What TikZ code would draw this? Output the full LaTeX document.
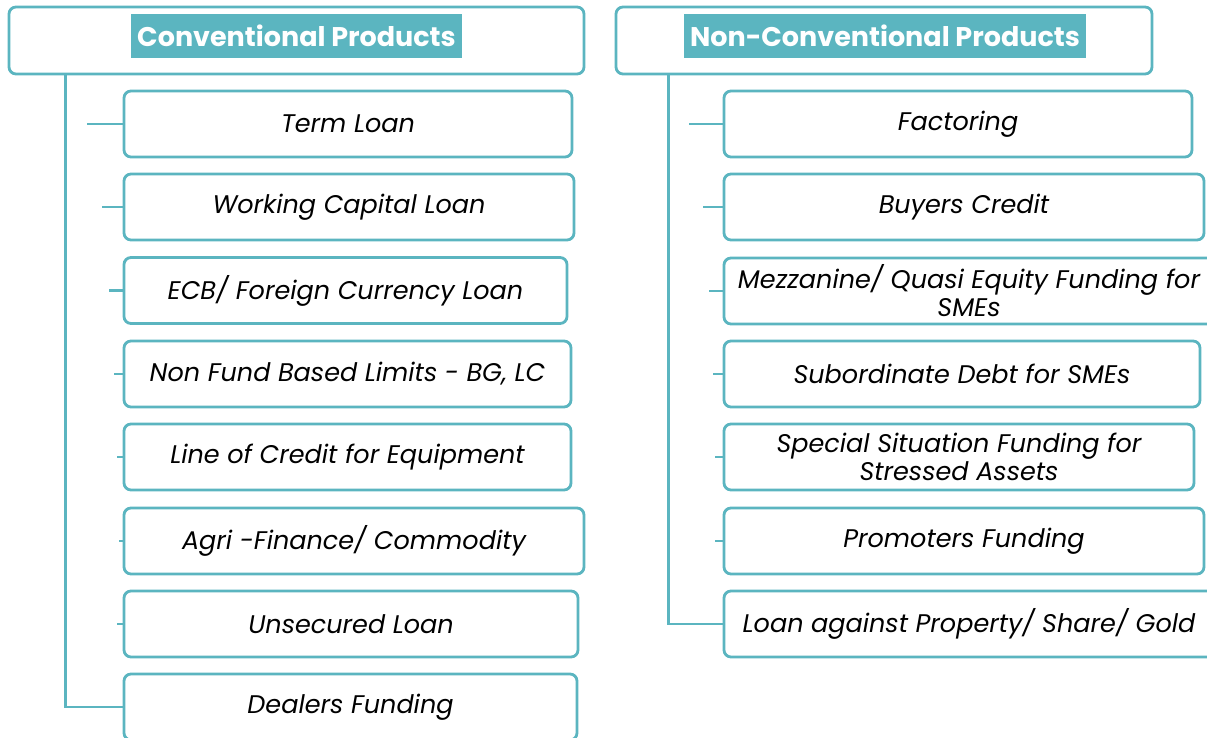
\documentclass[tikz,border=0pt]{standalone}
\usepackage{fontspec}
\setmainfont{Poppins}
\usetikzlibrary{calc}
\definecolor{teal1}{HTML}{5BB5C0}
\tikzset{
  box/.style={draw=teal1, line width=2.8pt, rounded corners=7pt, fill=white, minimum height=66pt, inner sep=1pt, align=center, font=\fontsize{25.5}{28}\selectfont\itshape},
  head/.style={draw=teal1, line width=2.8pt, rounded corners=7pt, minimum height=67pt},
  label/.style={fill=teal1, text=white, font=\fontsize{27}{30}\selectfont\bfseries, minimum height=44pt, inner xsep=6pt},
  conn/.style={draw=teal1, line width=2.8pt},
}
\begin{document}
\begin{tikzpicture}[x=1pt,y=-1pt]
\useasboundingbox (0,0) rectangle (1207,738);
% headers
\node[head, minimum width=575pt] (lh) at (296.5,40.5) {};
\node[label] (lhl) at (296.5,36) {Conventional Products};
\node[head, minimum width=536pt] (rh) at (884,40.5) {};
\node[label] (rhl) at (885,36) {Non-Conventional Products};
% left items
\node[box, minimum width=448pt] (l1) at (348,124) {Term Loan};
\node[box, minimum width=450pt] (l2) at (349,207) {Working Capital Loan};
\node[box, minimum width=443pt] (l3) at (345.5,290.5) {ECB/ Foreign Currency Loan};
\node[box, minimum width=447pt] (l4) at (347.5,374) {Non Fund Based Limits - BG, LC};
\node[box, minimum width=447pt] (l5) at (347.5,457) {Line of Credit for Equipment};
\node[box, minimum width=460pt] (l6) at (354,541) {Agri -Finance/ Commodity};
\node[box, minimum width=454pt] (l7) at (351,624) {Unsecured Loan};
\node[box, minimum width=453pt] (l8) at (350.5,707) {Dealers Funding};
% right items
\node[box, minimum width=468pt] (r1) at (958,124) {Factoring};
\node[box, minimum width=480pt] (r2) at (964,207) {Buyers Credit};
\node[box, minimum width=490pt] (r3) at (969,291) {Mezzanine/ Quasi Equity Funding for\\SMEs};
\node[box, minimum width=476pt] (r4) at (962,374) {Subordinate Debt for SMEs};
\node[box, minimum width=470pt] (r5) at (959,457) {Special Situation Funding for\\Stressed Assets};
\node[box, minimum width=480pt] (r6) at (964,541) {Promoters Funding};
\node[box, minimum width=490pt] (r7) at (969,624) {Loan against Property/ Share/ Gold};
% main connectors
\coordinate (lt) at ($(lh.south west)+(58,0)$);
\coordinate (rt) at ($(rh.south west)+(54,0)$);
\draw[conn] (lt) |- (l8.west);
\draw[conn] (rt) |- (r7.west);
% stubs
\draw[conn] (l1.west) -- ++(-36,0);
\draw[conn] (l2.west) -- ++(-21,0);
\draw[conn] (l3.west) -- ++(-14,0);
\draw[conn] (l4.west) -- ++(-9,0);
\draw[conn] (l5.west) -- ++(-6,0);
\draw[conn] (l6.west) -- ++(-4,0);
\draw[conn] (l7.west) -- ++(-6,0);
\draw[conn] (r1.west) -- ++(-34,0);
\draw[conn] (r2.west) -- ++(-20,0);
\draw[conn] (r3.west) -- ++(-14,0);
\draw[conn] (r4.west) -- ++(-10,0);
\draw[conn] (r5.west) -- ++(-8,0);
\draw[conn] (r6.west) -- ++(-8,0);
\end{tikzpicture}
\end{document}
